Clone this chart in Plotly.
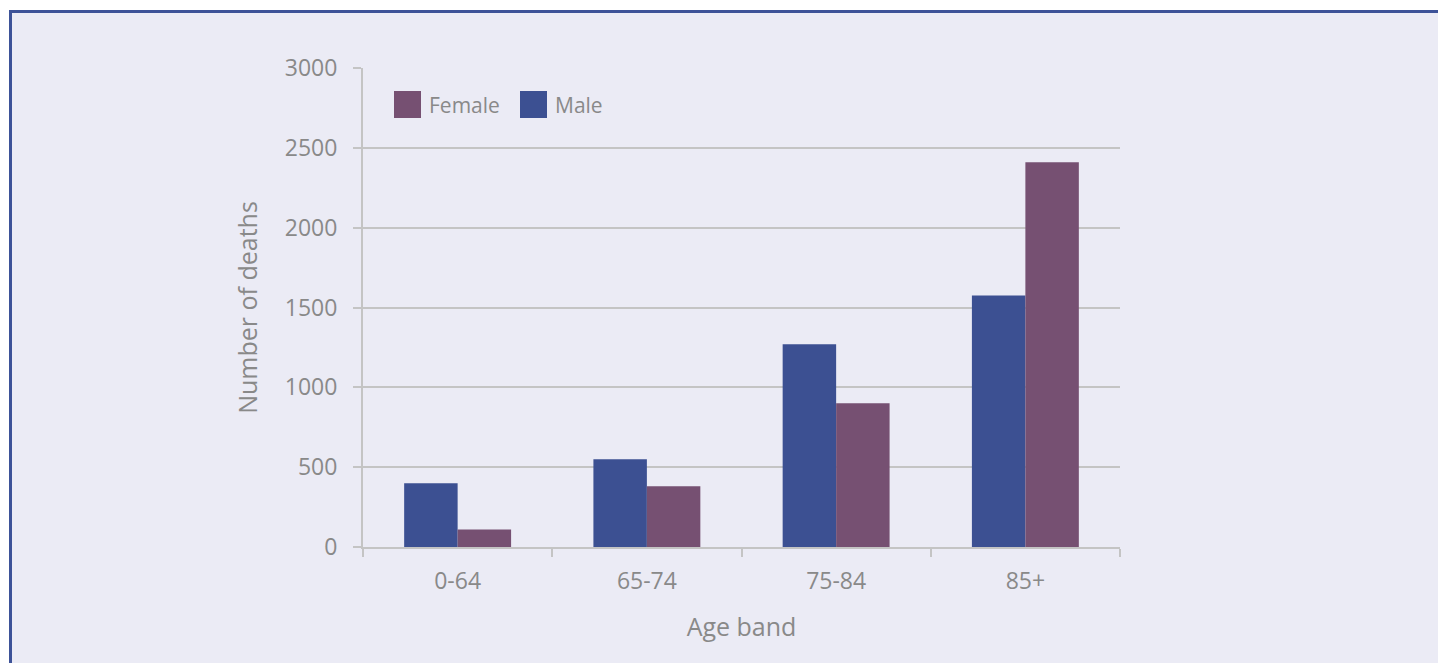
import plotly.graph_objects as go

# Deaths by age band and sex
age_bands = ["0-64", "65-74", "75-84", "85+"]
male_deaths = [400, 550, 1270, 1575]
female_deaths = [110, 380, 900, 2410]

y_ticks = [0, 500, 1000, 1500, 2000, 2500, 3000]

MALE_COLOR = "#3c5092"
FEMALE_COLOR = "#765072"
TEXT_COLOR = "#898989"
GRID_COLOR = "#c4c4c4"
PANEL_BG = "#ebebf5"
FRAME_COLOR = "#3d5298"
FONT = "Open Sans"
TICK_SIZE = 23
TITLE_SIZE = 25
LEGEND_SIZE = 21

W, H = 1438, 663
ML, MR, MT, MB = 363, 318, 68, 116
PW, PH = W - ML - MR, H - MT - MB


def px_x(x):
    return (x - ML) / PW


def px_y(y):
    return (H - MB - y) / PH


fig = go.Figure()
fig.add_trace(go.Bar(x=age_bands, y=male_deaths, name="Male",
                     marker=dict(color=MALE_COLOR, line=dict(width=0)),
                     showlegend=False))
fig.add_trace(go.Bar(x=age_bands, y=female_deaths, name="Female",
                     marker=dict(color=FEMALE_COLOR, line=dict(width=0)),
                     showlegend=False))

shapes = [
    # lavender panel with dark blue frame
    dict(type="rect", xref="paper", yref="paper", layer="below",
         x0=px_x(10.5), x1=px_x(W + 10), y0=px_y(H + 10), y1=px_y(11.5),
         fillcolor=PANEL_BG, line=dict(color=FRAME_COLOR, width=3)),
]

# legend keys
legend_items = [("Female", FEMALE_COLOR, 394), ("Male", MALE_COLOR, 520)]
annotations = []
for label, color, x0 in legend_items:
    shapes.append(dict(type="rect", xref="paper", yref="paper",
                       x0=px_x(x0), x1=px_x(x0 + 27), y0=px_y(118), y1=px_y(91),
                       fillcolor=color, line=dict(width=0)))
    annotations.append(dict(xref="paper", yref="paper", x=px_x(x0 + 33), y=px_y(105),
                            text=label, showarrow=False, xanchor="left", yanchor="middle",
                            font=dict(family=FONT, size=LEGEND_SIZE, color=TEXT_COLOR)))

fig.update_layout(
    width=W, height=H,
    margin=dict(l=ML, r=MR, t=MT, b=MB, pad=0),
    paper_bgcolor="white",
    plot_bgcolor="rgba(0,0,0,0)",
    barmode="group",
    bargap=0.435,
    bargroupgap=0,
    font=dict(family=FONT, size=TICK_SIZE, color=TEXT_COLOR),
    shapes=shapes,
    annotations=annotations,
    xaxis=dict(
        type="category",
        showgrid=False,
        showline=True, linecolor=GRID_COLOR, linewidth=2,
        ticks="outside", tickson="boundaries", ticklen=8, tickwidth=2, tickcolor=GRID_COLOR,
        ticklabelstandoff=12,
        tickfont=dict(family=FONT, size=TICK_SIZE, color=TEXT_COLOR),
        title=dict(text="Age band", standoff=24,
                   font=dict(family=FONT, size=TITLE_SIZE, color=TEXT_COLOR)),
    ),
    yaxis=dict(
        range=[0, 3000],
        tickvals=y_ticks,
        ticktext=[str(v) for v in y_ticks],
        showgrid=True, gridcolor=GRID_COLOR, gridwidth=2,
        zeroline=False,
        showline=True, linecolor=GRID_COLOR, linewidth=2,
        ticks="outside", ticklen=8, tickwidth=2, tickcolor=GRID_COLOR,
        ticklabelstandoff=11,
        tickfont=dict(family=FONT, size=TICK_SIZE, color=TEXT_COLOR),
        title=dict(text="Number of deaths", standoff=20,
                   font=dict(family=FONT, size=TITLE_SIZE, color=TEXT_COLOR)),
    ),
)

fig.write_html("out.html")
